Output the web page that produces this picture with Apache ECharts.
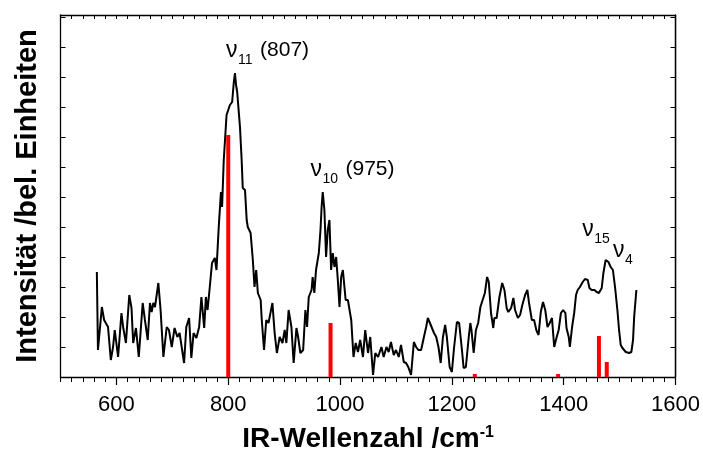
<!DOCTYPE html>
<html>
<head>
<meta charset="utf-8">
<script src="https://cdn.jsdelivr.net/npm/echarts@6/dist/echarts.min.js"></script>
<style>
html,body{margin:0;padding:0;background:#fff;}
#chart{width:703px;height:459px;}
</style>
</head>
<body>
<div id="chart"></div>
<script>
// IR spectrum (wavenumber in cm^-1, intensity in arbitrary units)
const wavenumber = [565,567,574,578,581,585,590,594,597,603,609,612,617,623,627,630,635,640,647,651,656,660,663,666,669,675,679,684,690,694,699,704,709,713,721,725,730,734,738,743,748,752,757,760,763,767,771,776,779,783,787,789,792,797,800,803,807,810,812,814,816,821,824,826,830,833,835,840,844,847,850,853,858,860,864,868,872,879,883,887,892,897,901,904,908,913,917,922,925,929,934,938,941,944,949,951,954,957,962,965,967,969,972,975,978,981,984,987,990,993,996,999,1002,1005,1010,1014,1020,1024,1028,1032,1036,1041,1045,1050,1054,1059,1063,1068,1074,1078,1083,1087,1091,1096,1100,1105,1109,1114,1118,1122,1127,1132,1136,1140,1145,1150,1154,1157,1160,1163,1168,1172,1176,1180,1184,1188,1191,1196,1200,1204,1209,1213,1218,1221,1225,1230,1233,1235,1239,1243,1247,1251,1255,1259,1263,1266,1270,1274,1276,1280,1285,1290,1294,1298,1301,1306,1310,1313,1318,1322,1326,1331,1335,1338,1343,1347,1351,1355,1359,1363,1367,1371,1375,1379,1383,1387,1391,1395,1399,1403,1405,1409,1411,1415,1419,1422,1425,1429,1434,1438,1443,1446,1450,1455,1459,1463,1468,1471,1475,1480,1484,1488,1492,1496,1499,1502,1505,1511,1517,1521,1524,1526,1529,1530];
const intensity = [105,27,70,57,59,50,17,30,47,20,64,50,34,82,69,34,49,20,74,57,37,74,65,74,70,94,67,20,50,47,30,49,40,44,14,50,59,19,44,39,50,80,49,80,67,90,114,119,107,150,185,170,217,262,267,272,275,295,304,292,285,250,217,189,187,157,150,144,117,90,107,84,77,57,27,57,54,74,44,24,40,34,47,34,67,50,14,49,40,24,27,67,50,80,87,100,84,107,124,147,170,185,167,120,147,157,107,124,110,120,97,70,100,107,77,77,57,20,34,25,37,20,47,24,40,2,24,20,30,20,30,25,35,22,27,20,32,15,14,10,2,35,30,27,27,40,50,59,55,55,44,40,30,14,40,52,40,10,5,30,55,54,27,9,10,39,54,47,24,47,54,70,77,84,100,95,64,49,59,59,80,94,87,69,65,69,79,67,59,62,72,82,87,74,57,57,47,42,65,75,67,50,54,59,30,39,47,64,67,64,49,40,30,50,65,82,87,90,95,98,97,89,87,87,85,84,89,104,117,115,110,107,89,67,47,32,29,25,24,25,37,60,62,87];
// calculated band positions (red sticks)
const stickWn = [800, 983, 1241, 1390, 1463, 1477];
const stickInt = [242, 54, 3, 3, 41, 15];
// axis tick labels
const xTickLabels = [600, 800, 1000, 1200, 1400, 1600];
// band annotations
const annNu = ['\u03BD', '\u03BD', '\u03BD', '\u03BD'];
const annSub = ['11', '10', '15', '4'];
const annRest = ['(807)', '(975)', '', ''];
const annWn = [796, 947, 1433, 1488];
const annInt = [326, 207, 147, 126];

const FONT = "'Liberation Sans', Arial, sans-serif";
const chart = echarts.init(document.getElementById('chart'), null, {renderer: 'canvas'});

const lineData = wavenumber.map((w, i) => [w, intensity[i]]);
const stickData = stickWn.map((w, i) => [w, stickInt[i]]);

const X_MIN = 500, X_MAX = 1600, Y_MAX = 362;

chart.setOption({
  animation: false,
  backgroundColor: '#fff',
  grid: {left: 60.5, right: 26.5, top: 15, bottom: 82, containLabel: false},
  xAxis: [
    {
      type: 'value', position: 'bottom', min: X_MIN, max: X_MAX, interval: 100,
      axisLine: {show: true, lineStyle: {color: '#000', width: 1.3}},
      axisTick: {show: true, inside: false, length: 8, lineStyle: {color: '#000', width: 1.2}, customValues: xTickLabels},
      axisLabel: {show: true, customValues: xTickLabels, formatter: v => String(v), color: '#000', fontSize: 22, fontFamily: FONT, margin: 17},
      splitLine: {show: false},
      name: '{a|IR-Wellenzahl /cm}{s|-1}',
      nameLocation: 'middle', nameGap: 48,
      nameTextStyle: {
        rich: {
          a: {fontSize: 28, fontWeight: 'bold', fontFamily: FONT, color: '#000', verticalAlign: 'bottom'},
          s: {fontSize: 16, fontWeight: 'bold', fontFamily: FONT, color: '#000', verticalAlign: 'top'}
        }
      }
    },
    {
      type: 'value', position: 'bottom', min: X_MIN, max: X_MAX, interval: 20,
      axisLine: {show: false},
      axisTick: {show: true, inside: false, length: 5, lineStyle: {color: '#000', width: 1}},
      axisLabel: {show: false}, splitLine: {show: false}
    },
    {
      type: 'value', position: 'top', min: X_MIN, max: X_MAX, interval: 20,
      axisLine: {show: true, lineStyle: {color: '#000', width: 1.3}},
      axisTick: {show: true, inside: true, length: 4, lineStyle: {color: '#000', width: 1}},
      axisLabel: {show: false}, splitLine: {show: false}
    }
  ],
  yAxis: [
    {
      type: 'value', position: 'left', min: 0, max: Y_MAX, interval: 30,
      axisLine: {show: true, lineStyle: {color: '#000', width: 1.3}},
      axisTick: {show: true, inside: true, length: 5, lineStyle: {color: '#000', width: 1}},
      axisLabel: {show: false}, splitLine: {show: false},
      name: 'Intensität /bel. Einheiten',
      nameLocation: 'middle', nameGap: 18, nameRotate: 90,
      nameTextStyle: {fontSize: 29, fontWeight: 'bold', fontFamily: FONT, color: '#000'}
    },
    {
      type: 'value', position: 'right', min: 0, max: Y_MAX, interval: 30,
      axisLine: {show: true, onZero: false, lineStyle: {color: '#000', width: 1.3}},
      axisTick: {show: true, inside: true, length: 5, lineStyle: {color: '#000', width: 1}},
      axisLabel: {show: false}, splitLine: {show: false}
    }
  ],
  series: [
    {
      type: 'bar', xAxisIndex: 0, yAxisIndex: 0, data: stickData,
      barWidth: 4, itemStyle: {color: '#ff0000'}, z: 2, silent: true
    },
    {
      type: 'line', xAxisIndex: 0, yAxisIndex: 0, data: lineData,
      showSymbol: false, symbol: 'none', smooth: false,
      lineStyle: {color: '#000', width: 2}, z: 3, silent: true
    }
  ]
});

// annotations
function measure(text, font) {
  const c = document.createElement('canvas').getContext('2d');
  c.font = font;
  return c.measureText(text).width;
}
const NU_SIZE = 23, SUB_SIZE = 14, REST_SIZE = 21;
const graphics = [];
annWn.forEach((w, i) => {
  const p = chart.convertToPixel({xAxisIndex: 0, yAxisIndex: 0}, [w, annInt[i]]);
  const nuW = measure(annNu[i], NU_SIZE + 'px ' + FONT);
  const subW = measure(annSub[i], SUB_SIZE + 'px ' + FONT);
  graphics.push({type: 'text', x: p[0], y: p[1], style: {text: annNu[i], font: NU_SIZE + 'px ' + FONT, fill: '#000', textVerticalAlign: 'middle', textAlign: 'left'}});
  graphics.push({type: 'text', x: p[0] + nuW + 0.5, y: p[1] + 9, style: {text: annSub[i], font: SUB_SIZE + 'px ' + FONT, fill: '#000', textVerticalAlign: 'middle', textAlign: 'left'}});
  if (annRest[i]) {
    graphics.push({type: 'text', x: p[0] + nuW + subW + 8, y: p[1] - 1, style: {text: annRest[i], font: REST_SIZE + 'px ' + FONT, fill: '#000', textVerticalAlign: 'middle', textAlign: 'left'}});
  }
});
// right frame edge (ensures the box is closed)
const pTop = chart.convertToPixel({xAxisIndex: 0, yAxisIndex: 0}, [X_MAX, Y_MAX]);
const pBot = chart.convertToPixel({xAxisIndex: 0, yAxisIndex: 0}, [X_MAX, 0]);
graphics.push({type: 'line', shape: {x1: pTop[0], y1: pTop[1], x2: pBot[0], y2: pBot[1]}, style: {stroke: '#000', lineWidth: 1.3}, z: 10});
chart.setOption({graphic: graphics});
</script>
</body>
</html>
